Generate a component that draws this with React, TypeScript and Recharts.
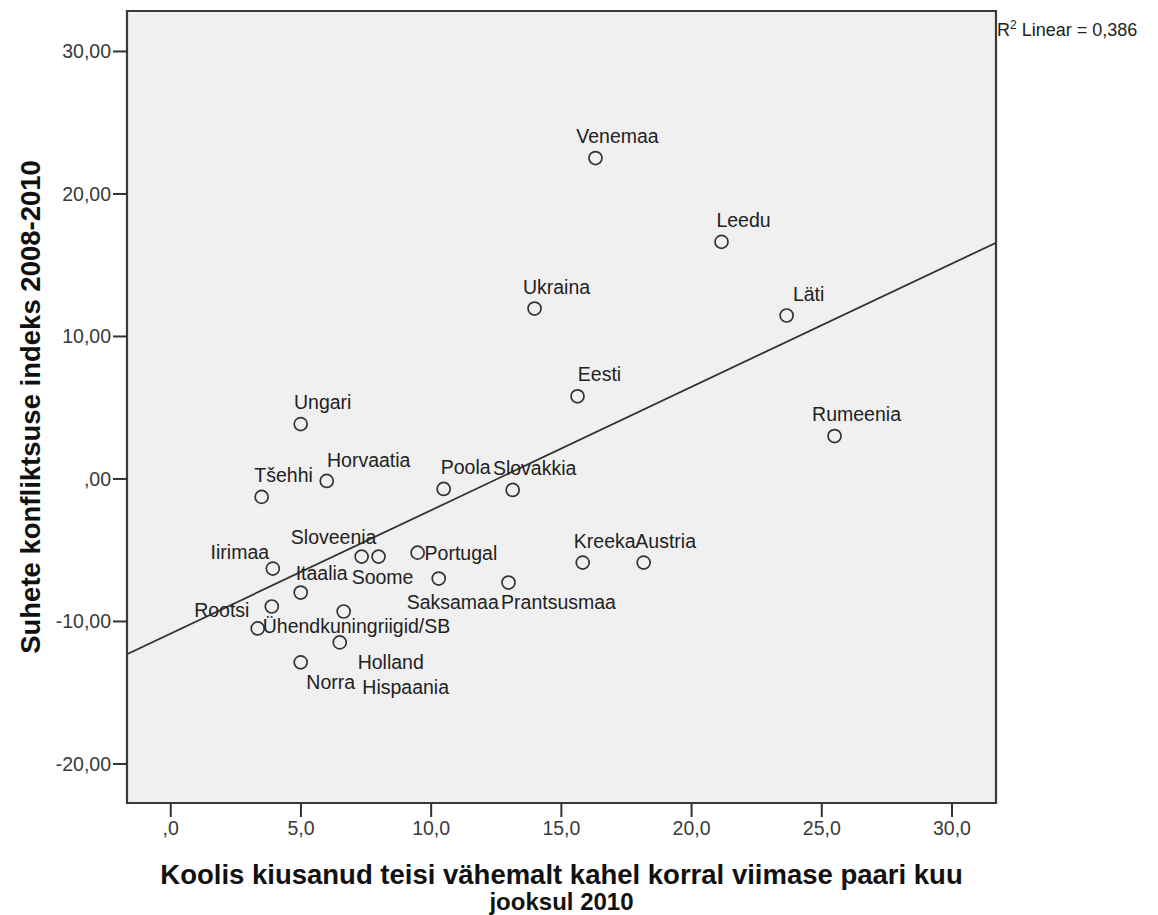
import { ScatterChart, Scatter, XAxis, YAxis, CartesianGrid, ReferenceLine, ReferenceArea } from "recharts";

const countries = [
  "Venemaa", "Leedu", "Ukraina", "Läti", "Eesti", "Rumeenia", "Ungari", "Horvaatia", "Tšehhi",
  "Poola", "Slovakkia", "Sloveenia", "Soome", "Portugal", "Iirimaa", "Saksamaa", "Prantsusmaa",
  "Kreeka", "Austria", "Itaalia", "Rootsi", "Ühendkuningriigid/SB", "Hispaania", "Holland", "Norra",
];
const bullying = [
  16.31, 21.15, 13.97, 23.65, 15.62, 25.49, 4.99, 5.99, 3.49,
  10.48, 13.13, 7.33, 7.98, 9.48, 3.92, 10.29, 12.97,
  15.82, 18.16, 4.99, 3.88, 3.34, 6.64, 6.49, 4.99,
];
const conflict = [
  22.52, 16.64, 11.96, 11.47, 5.8, 3.01, 3.85, -0.14, -1.26,
  -0.7, -0.77, -5.45, -5.45, -5.17, -6.29, -6.99, -7.27,
  -5.87, -5.87, -7.97, -8.95, -10.49, -9.3, -11.47, -12.87,
];

const xTicks = [0, 5, 10, 15, 20, 25, 30];
const yTicks = [30, 20, 10, 0, -10, -20];
const xMin = -1.68;
const xMax = 31.69;
const yMin = -22.74;
const yMax = 32.84;

// where each name sits relative to its circle: [dx, dy, anchor]
const labelPlace: Record<string, [number, number, string]> = {
  Sloveenia: [-28, -20, "middle"],
  Soome: [4, 20, "middle"],
  Portugal: [7, 0, "start"],
  Iirimaa: [-33, -17, "middle"],
  Saksamaa: [14, 23, "middle"],
  Prantsusmaa: [50, 19, "middle"],
  Rootsi: [-50, 4, "middle"],
  "Ühendkuningriigid/SB": [5, -2, "start"],
  Hispaania: [62, 76, "middle"],
  Holland: [51, 20, "middle"],
  Norra: [30, 20, "middle"],
  Horvaatia: [42, -21, "middle"],
  Itaalia: [21, -20, "middle"],
};

const points = countries.map((name, i) => ({ name, x: bullying[i], y: conflict[i] }));

// least squares fit line
const n = points.length;
const mx = bullying.reduce((a, b) => a + b, 0) / n;
const my = conflict.reduce((a, b) => a + b, 0) / n;
let sxy = 0;
let sxx = 0;
points.forEach((p) => {
  sxy += (p.x - mx) * (p.y - my);
  sxx += (p.x - mx) * (p.x - mx);
});
const slope = sxy / sxx;
const intercept = my - slope * mx;

const font = "'Liberation Sans', Arial, sans-serif";

const fmtX = (v: number) => (v === 0 ? ",0" : v.toFixed(1).replace(".", ","));
const fmtY = (v: number) => (v === 0 ? ",00" : v.toFixed(2).replace(".", ","));

const renderPoint = (props: any) => {
  const { cx, cy, payload } = props;
  const [dx, dy, anchor] = labelPlace[payload.name] || [22, -22, "middle"];
  return (
    <g>
      <circle cx={cx} cy={cy} r={6.5} fill="none" stroke="#333" strokeWidth={1.7} />
      <text
        x={cx + dx}
        y={cy + dy}
        textAnchor={anchor}
        dominantBaseline="central"
        fontFamily={font}
        fontSize={19.5}
        fill="#222"
      >
        {payload.name}
      </text>
    </g>
  );
};

const YTitle = (props: any) => {
  const { viewBox } = props;
  const x = viewBox.x + 30;
  const y = viewBox.y + viewBox.height / 2;
  return (
    <text
      x={x}
      y={y}
      transform={`rotate(-90, ${x}, ${y})`}
      textAnchor="middle"
      dominantBaseline="central"
      fontFamily={font}
      fontWeight="bold"
      fontSize={27.5}
      fill="#111"
    >
      Suhete konfliktsuse indeks 2008-2010
    </text>
  );
};

const XTitle = (props: any) => {
  const { viewBox } = props;
  const x = viewBox.x + viewBox.width / 2;
  return (
    <g fontFamily={font} fontWeight="bold" fill="#111">
      <text x={x} y={viewBox.y + 81} textAnchor="middle" fontSize={27.5}>
        Koolis kiusanud teisi vähemalt kahel korral viimase paari kuu
      </text>
      <text x={x} y={viewBox.y + 107} textAnchor="middle" fontSize={24}>
        jooksul 2010
      </text>
    </g>
  );
};

const App = () => {
  return (
    <div style={{ position: "absolute", left: 0, top: 0, background: "#fff" }}>
      <ScatterChart width={1158} height={915} margin={{ top: 11, right: 162, bottom: 0, left: 0 }}>
        <CartesianGrid horizontal={false} vertical={false} fill="#f0f0f0" />
        <XAxis
          type="number"
          dataKey="x"
          domain={[xMin, xMax]}
          allowDataOverflow
          ticks={xTicks}
          tickFormatter={fmtX}
          height={112}
          axisLine={false}
          tickSize={14}
          tickMargin={4}
          tickLine={{ stroke: "#333", strokeWidth: 2 }}
          tick={{ fontFamily: font, fontSize: 19.5, fill: "#3a3a3a" }}
          label={{ content: XTitle }}
        />
        <YAxis
          type="number"
          dataKey="y"
          domain={[yMin, yMax]}
          allowDataOverflow
          ticks={yTicks}
          tickFormatter={fmtY}
          width={127}
          axisLine={false}
          tickSize={14}
          tickMargin={2}
          tickLine={{ stroke: "#333", strokeWidth: 2 }}
          tick={{ fontFamily: font, fontSize: 19.5, fill: "#3a3a3a" }}
          label={{ content: YTitle }}
        />
        <ReferenceArea
          x1={xMin}
          x2={xMax}
          y1={yMin}
          y2={yMax}
          fill="none"
          fillOpacity={0}
          stroke="#3a3a3a"
          strokeWidth={2.2}
          ifOverflow="visible"
        />
        <ReferenceLine
          segment={[
            { x: xMin, y: intercept + slope * xMin },
            { x: xMax, y: intercept + slope * xMax },
          ]}
          stroke="#333"
          strokeWidth={1.8}
          ifOverflow="hidden"
        />
        <Scatter data={points} shape={renderPoint} isAnimationActive={false} />
      </ScatterChart>
      <div
        style={{
          position: "absolute",
          left: 997,
          top: 18,
          fontFamily: font,
          fontSize: 18,
          color: "#222",
          whiteSpace: "nowrap",
        }}
      >
        R<sup style={{ fontSize: 12 }}>2</sup> Linear = 0,386
      </div>
    </div>
  );
};

export default App;
